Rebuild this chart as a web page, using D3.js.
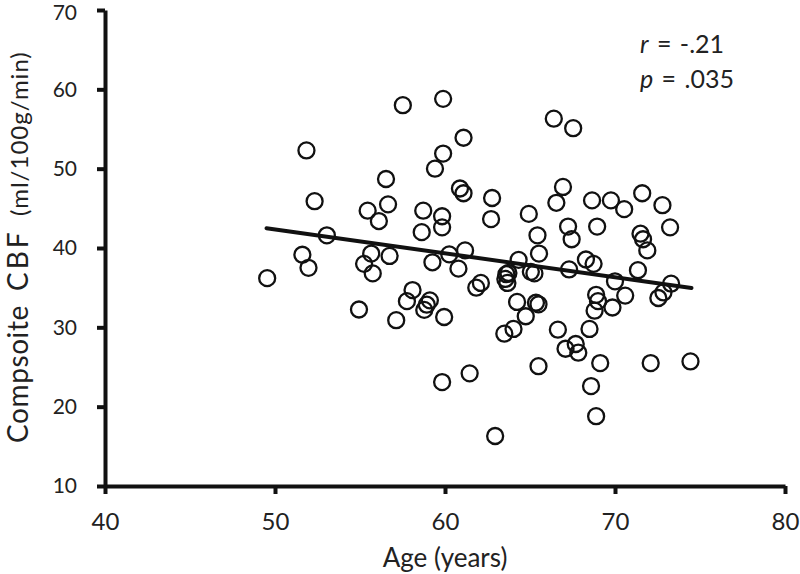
<!DOCTYPE html>
<html>
<head>
<meta charset="utf-8">
<script src="https://cdn.jsdelivr.net/npm/d3@7"></script>
<style>
  html, body { margin: 0; padding: 0; background: #fff; }
  svg { display: block; font-family: Lato, "Open Sans", sans-serif; }
</style>
</head>
<body>
<svg id="chart" width="800" height="574"></svg>
<script>
// ---- data ----
const age = [49.54, 51.61, 51.85, 51.97, 52.33, 53.05, 54.94, 55.24, 55.45, 55.66,
  55.75, 56.11, 56.53, 56.65, 56.74, 57.13, 57.52, 57.76, 58.09, 58.63,
  58.72, 58.78, 58.93, 59.11, 59.26, 59.41, 59.83, 59.83, 59.89, 59.89,
  59.83, 59.95, 60.25, 60.79, 60.88, 61.09, 61.09, 61.18, 61.45, 61.84,
  62.11, 62.71, 62.77, 62.95, 63.49, 63.55, 63.61, 63.67, 63.73, 64.03,
  64.24, 64.33, 64.75, 64.93, 65.05, 65.26, 65.35, 65.44, 65.5, 65.5,
  65.53, 66.4, 66.55, 66.64, 66.94, 67.09, 67.24, 67.3, 67.45, 67.54,
  67.69, 67.84, 68.29, 68.5, 68.59, 68.65, 68.74, 68.8, 68.89, 68.89,
  68.95, 69.0, 69.13, 69.76, 69.85, 70.0, 70.6, 70.54, 71.35, 71.5,
  71.6, 71.65, 71.9, 72.1, 72.55, 72.79, 72.85, 73.24, 73.3, 74.44];
const cbf = [36.2, 39.15, 52.3, 37.5, 45.9, 41.6, 32.25, 38.0, 44.7, 39.3,
  36.8, 43.4, 48.7, 45.5, 39.0, 30.9, 58.0, 33.3, 34.7, 42.0,
  44.7, 32.2, 32.85, 33.4, 38.2, 50.0, 44.0, 42.6, 51.9, 58.8,
  23.1, 31.3, 39.2, 37.4, 47.5, 46.9, 53.9, 39.7, 24.2, 35.0,
  35.6, 43.65, 46.3, 16.3, 29.2, 36.1, 36.7, 35.6, 36.85, 29.8,
  33.2, 38.5, 31.4, 44.3, 37.0, 36.8, 33.1, 41.6, 32.9, 25.1,
  39.3, 56.3, 45.7, 29.7, 47.7, 27.3, 42.7, 37.3, 41.1, 55.1,
  27.9, 26.8, 38.55, 29.8, 22.6, 46.0, 38.0, 32.1, 34.1, 18.8,
  42.7, 33.3, 25.5, 46.0, 32.5, 35.8, 34.0, 44.9, 37.2, 41.8,
  46.9, 41.1, 39.7, 25.5, 33.7, 45.4, 34.4, 42.6, 35.5, 25.7];
const fitAge = [49.5, 74.5];
const fitCbf = [42.5, 34.95];
const xTicks = [40, 50, 60, 70, 80];
const yTicks = [10, 20, 30, 40, 50, 60, 70];
const statLines = [["r", " = -.21"], ["p", " = .035"]];

// ---- layout ----
const svg = d3.select("#chart");
const x = d3.scaleLinear().domain([40, 80]).range([105, 785]);
const y = d3.scaleLinear().domain([10, 70]).range([486, 10]);

const ink = "#111";

// y axis
const gy = svg.append("g").attr("transform", "translate(105,0)")
  .call(d3.axisLeft(y).tickValues(yTicks).tickSize(8).tickSizeOuter(0).tickPadding(20));
// x axis
const gx = svg.append("g").attr("transform", "translate(0,486)")
  .call(d3.axisBottom(x).tickValues(xTicks).tickSize(8).tickSizeOuter(0).tickPadding(19));

[gx, gy].forEach(g => {
  g.select(".domain").attr("stroke", ink).attr("stroke-width", 4);
  g.selectAll(".tick line").attr("stroke", ink).attr("stroke-width", 4);
  g.selectAll(".tick text").attr("fill", "#222").attr("font-family", "Lato, sans-serif");
});
gy.selectAll(".tick text").attr("font-size", 21);
gy.selectAll(".tick text").filter(d => d === 70).attr("dy", "0.45em");
gx.selectAll(".tick text").attr("font-size", 24);

// regression line
svg.append("line")
  .attr("x1", x(fitAge[0])).attr("y1", y(fitCbf[0]))
  .attr("x2", x(fitAge[1])).attr("y2", y(fitCbf[1]))
  .attr("stroke", ink).attr("stroke-width", 4).attr("stroke-linecap", "round");

// points
svg.append("g").selectAll("circle")
  .data(age.map((a, i) => [a, cbf[i]]))
  .join("circle")
  .attr("cx", d => x(d[0])).attr("cy", d => y(d[1]))
  .attr("r", 8)
  .attr("fill", "none").attr("stroke", ink).attr("stroke-width", 2.3);

// x title
svg.append("text").attr("x", 445).attr("y", 567).attr("text-anchor", "middle")
  .attr("font-size", 26).attr("fill", "#222").text("Age (years)");

// y title
const yt = svg.append("text").attr("transform", "translate(28,0) rotate(-90)")
  .attr("fill", "#222");
yt.append("tspan").attr("x", -443).attr("font-size", 28).attr("letter-spacing", 0.6).text("Compsoite");
yt.append("tspan").attr("x", -291).attr("font-size", 28).attr("letter-spacing", 3).text("CBF");
yt.append("tspan").attr("x", -216).attr("font-size", 24).attr("letter-spacing", 1).text("(ml/100g/min)");

// stats annotation
statLines.forEach((s, i) => {
  const t = svg.append("text").attr("x", 640).attr("y", 53 + i * 35)
    .attr("font-size", 25).attr("word-spacing", 2).attr("fill", "#222");
  t.append("tspan").attr("font-style", "italic").text(s[0]);
  t.append("tspan").text(s[1]);
});
</script>
</body>
</html>
